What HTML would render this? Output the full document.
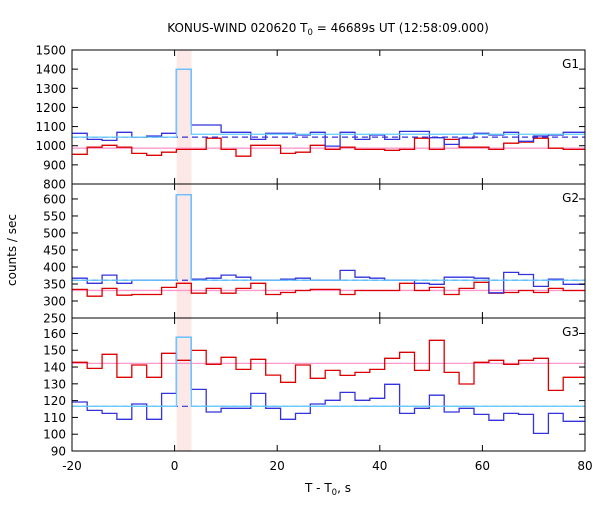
<!DOCTYPE html>
<html><head><meta charset="utf-8"><style>
body{margin:0;background:#fff}
svg{font-family:"DejaVu Sans","Liberation Sans",sans-serif}
</style></head><body>
<svg id="c" width="600" height="500" viewBox="0 0 600 500" xmlns="http://www.w3.org/2000/svg">
<text x="328" y="32" font-size="12" text-anchor="middle">KONUS-WIND 020620 T<tspan font-size="8.5" dy="3">0</tspan><tspan dy="-3"> = 46689s UT (12:58:09.000)</tspan></text>
<text transform="translate(16,250) rotate(-90)" font-size="12" text-anchor="middle">counts / sec</text>
<text x="328" y="492" font-size="12" text-anchor="middle">T - T<tspan font-size="8.5" dy="3">0</tspan><tspan dy="-3">, s</tspan></text>
</svg>
<script>
const xTicks=[-20,0,20,40,60,80];
const binStart=-19.94, binWidth=2.9;
const g1Blue=[1065,1033,1028,1070,1045,1051,1065,1400,1108,1108,1070,1070,1033,1065,1065,1056,1070,998,1070,1033,1056,1033,1075,1075,1042,1007,1040,1065,1056,1070,1023,1051,1056,1070,1070];
const g1Red=[955,992,1002,992,960,950,966,981,981,1039,981,945,1002,1002,960,966,1002,981,992,981,981,976,981,1039,981,1033,992,992,981,1013,1019,1039,987,981,981];
const g2Blue=[367,352,376,352,361,361,361,612,364,367,376,370,361,361,364,367,361,361,390,370,367,361,361,352,349,370,370,367,324,384,378,343,364,349,349];
const g2Red=[334,314,337,317,319,319,340,352,323,337,323,337,352,319,325,331,334,334,319,331,331,331,352,331,340,319,337,355,323,325,331,325,337,331,331];
const g3Blue=[119.2,114.2,112.4,108.9,118,108.9,124.3,157.7,126.7,113.2,115.4,115.4,124.3,115.4,108.9,112.4,118,120.2,124.9,120.2,121.4,129.7,112.4,115.4,123.2,113.2,115.4,111.8,108.3,112.4,111.8,100.5,112.4,107.7,107.7];
const g3Red=[142.8,139.2,147.6,133.9,141.2,133.9,148.2,144,149.9,141.6,145.8,138.6,144.6,135.2,130.9,141.2,133.3,138,135,136.8,138.6,145.2,148.8,138,155.9,136.8,129.9,142.8,144,141.6,144,145.2,126.1,133.9,133.9];
const bgBlue=[1045,361,116.6];
const bgBlueAfter=[1060,361,116.6];
const peakCyan=[1400,612,157.7];
const bgRed=[987,331,142.2];
const yTicks=[[800,900,1000,1100,1200,1300,1400,1500],[250,300,350,400,450,500,550,600],[90,100,110,120,130,140,150,160]];
const yMin=[800,250,90], yMax=[1500,644,169.2];
const names=['G1','G2','G3'];
const blues=[g1Blue,g2Blue,g3Blue], reds=[g1Red,g2Red,g3Red];
const L=72,R=585,T=[50,184,318],B=[184,318,451];
const NS='http://www.w3.org/2000/svg', svg=document.getElementById('c');
const X=t=>L+(t+20)*(R-L)/100;
function mk(tag,at,parent){const e=document.createElementNS(NS,tag);for(const k in at)e.setAttribute(k,at[k]);(parent||svg).appendChild(e);return e;}
const defs=mk('defs',{});
for(let p=0;p<3;p++){const cp=mk('clipPath',{id:'cp'+p},defs);mk('rect',{x:L,y:T[p],width:R-L,height:B[p]-T[p]},cp);}
const band=mk('rect',{x:X(0.4),y:T[0],width:X(3.3)-X(0.4),height:B[2]-T[0],fill:'#fde8e8'});


function stepPath(vals,Y){let d='';for(let i=0;i<vals.length;i++){const x0=Math.min(X(binStart+i*binWidth),R),x1=Math.min(X(binStart+(i+1)*binWidth),R);const y=Y(vals[i]);d+=(i?'L':'M')+x0.toFixed(1)+','+y.toFixed(1)+'L'+x1.toFixed(1)+','+y.toFixed(1);}return d;}
for(let p=0;p<3;p++){
  const Y=v=>B[p]-(v-yMin[p])*(B[p]-T[p])/(yMax[p]-yMin[p]);
  const g=mk('g',{'clip-path':'url(#cp'+p+')'});
  
  
  const bs=X(binStart+7*binWidth), be=X(binStart+8*binWidth);
  let e=mk('line',{x1:L,x2:R,y1:Y(bgRed[p]),y2:Y(bgRed[p]),stroke:'#ff99cc','stroke-width':1.3},g);
  
  e=mk('path',{d:stepPath(reds[p],Y),fill:'none',stroke:'#dd0000','stroke-width':1.3},g);
  
  e=mk('path',{d:stepPath(blues[p],Y),fill:'none',stroke:'#3333dd','stroke-width':1.3},g);
  
  e=mk('line',{x1:L,x2:R,y1:Y(bgBlue[p]),y2:Y(bgBlue[p]),stroke:'#3333dd','stroke-width':1.2,'stroke-dasharray':'6,4'},g);
  
  e=mk('path',{d:'M'+L+','+Y(bgBlue[p])+'L'+bs+','+Y(bgBlue[p])+'L'+bs+','+Y(peakCyan[p])+'L'+be+','+Y(peakCyan[p])+'L'+be+','+Y(bgBlueAfter[p])+'L'+R+','+Y(bgBlueAfter[p]),fill:'none',stroke:'#66ccff','stroke-width':1.3},g);
  
  e=mk('rect',{x:L,y:T[p],width:R-L,height:B[p]-T[p],fill:'none',stroke:'#000','stroke-width':1});
  
  yTicks[p].forEach((v,i)=>{
    const y=Y(v);
    mk('line',{x1:L,x2:L+6,y1:y,y2:y,stroke:'#000'});
    mk('line',{x1:R-6,x2:R,y1:y,y2:y,stroke:'#000'});
    const t=mk('text',{x:L-6,y:y+4.5,'font-size':12,'text-anchor':'end'});
    t.textContent=v;
    
  });
  xTicks.forEach(v=>{mk('line',{x1:X(v),x2:X(v),y1:B[p],y2:B[p]-6,stroke:'#000'});mk('line',{x1:X(v),x2:X(v),y1:T[p],y2:T[p]+6,stroke:'#000'});});
  const lb=mk('text',{x:R-6,y:T[p]+18,'font-size':12,'text-anchor':'end'});
  lb.textContent=names[p];
  
}
xTicks.forEach(v=>{const t=mk('text',{x:X(v),y:470,'font-size':12,'text-anchor':'middle'});t.textContent=v;
  });
</script>
</body></html>
